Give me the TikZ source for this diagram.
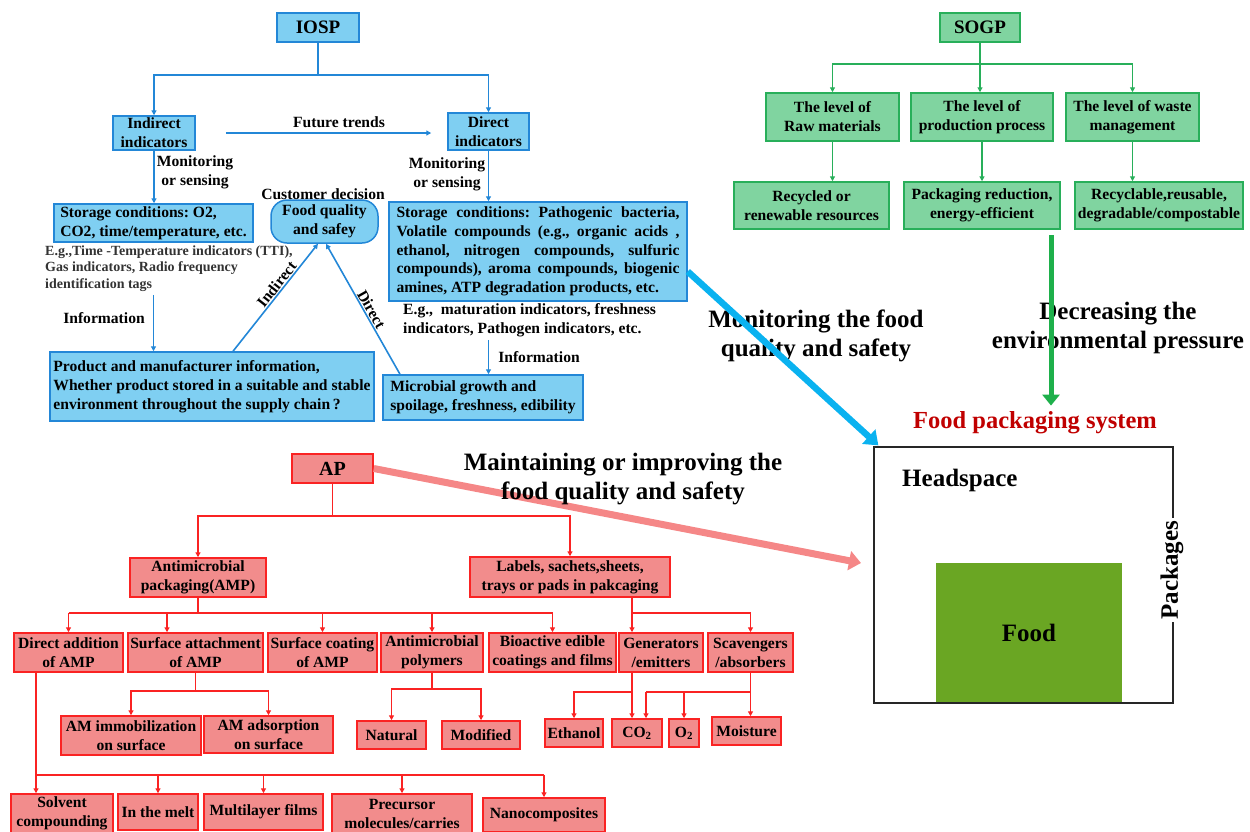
\documentclass[tikz,border=0pt]{standalone}
\usepackage{fontspec}
\setmainfont{Liberation Serif}
\usetikzlibrary{arrows.meta,calc}
\definecolor{bfill}{RGB}{127,207,242}
\definecolor{bline}{RGB}{35,135,215}
\definecolor{gfill}{RGB}{128,212,160}
\definecolor{gline}{RGB}{40,175,90}
\definecolor{rfill}{RGB}{242,140,140}
\definecolor{rline}{RGB}{250,35,35}
\definecolor{bigblue}{RGB}{10,178,240}
\definecolor{biggreen}{RGB}{30,176,75}
\definecolor{bigpink}{RGB}{245,135,135}
\definecolor{darkred}{RGB}{192,0,0}
\definecolor{foodgreen}{RGB}{106,166,35}
\newcommand\myfs[2]{\fontsize{#1}{#2}\selectfont}
\begin{document}
\frenchspacing
\begin{tikzpicture}[x=1pt,y=-1pt,
  sz/.style 2 args={minimum width=#1pt,minimum height=#2pt},
  base/.style={font=\bfseries\myfs{15.6}{19}, inner sep=0pt, align=center},
  big/.style={font=\bfseries\myfs{25}{29}, inner sep=0pt, align=center},
  bbox/.style={base, draw=bline, fill=bfill, line width=1.5pt},
  gbox/.style={base, draw=gline, fill=gfill, line width=1.5pt},
  rbox/.style={base, draw=rline, fill=rfill, line width=1.5pt},
  bconn/.style={draw=bline, line width=1.6pt},
  barr/.style={bconn, -{Triangle[length=5pt,width=5pt]}},
  gconn/.style={draw=gline, line width=1.4pt},
  garr/.style={gconn, -{Triangle[length=5pt,width=5pt]}},
  rconn/.style={draw=rline, line width=1.6pt},
  rarr/.style={rconn, -{Triangle[length=5pt,width=5pt]}},
  bigb/.style={draw=bigblue, line width=6.5pt, -{Triangle[length=13pt,width=19pt]}},
  bigg/.style={draw=biggreen, line width=5pt, -{Triangle[length=11pt,width=17pt]}},
  bigp/.style={draw=bigpink, line width=7pt, -{Triangle[length=12pt,width=19pt]}}
]
\useasboundingbox (0,0) rectangle (1250,831);

% ---------------- IOSP ----------------
\node[bbox, sz={82}{29}, font=\bfseries\myfs{19}{22}] (iosp) at (318,27.5) {IOSP};
\node[bbox, sz={82}{34}] (ind) at (154,133) {Indirect\\indicators};
\node[bbox, sz={81}{37}] (dir) at (488.5,131.5) {Direct\\indicators};
\node[bbox, sz={199}{38}, align=left] (lstore) at (153.5,223) {Storage conditions: O2,\\CO2, time/temperature, etc.};
\node[bbox, sz={107}{43}, rounded corners=16pt] (fq) at (324.5,221.5) {Food quality\\and safey};
\node[bbox, sz={298}{99}, text width=283pt, inner xsep=7.5pt, align=justify, font=\bfseries\myfs{15.6}{18.6}] (rstore) at (538,251.5) {\tolerance=10000 Storage conditions: Pathogenic bacteria,\linebreak Volatile compounds (e.g., organic acids ,\linebreak ethanol, nitrogen compounds, sulfuric\linebreak compounds), aroma compounds, biogenic\linebreak amines, ATP degradation products, etc.};
\node[bbox, sz={324}{69}, align=left] (prod) at (212,386.5) {Product and manufacturer information,\\Whether product stored in a suitable and stable\\environment throughout the supply chain\,?};
\node[bbox, sz={200}{45}, align=left] (micro) at (483,397.5) {Microbial growth and\\spoilage, freshness, edibility};

\node[base] (ft) at (339,122) {Future trends};
\node[base] (mosl) at (195,172.5) {Monitoring\\or sensing};
\node[base] (mosr) at (447,174) {Monitoring\\or sensing};
\node[base] (cd) at (323,194.5) {Customer decision};
\node[base, align=left, anchor=west, font=\bfseries\myfs{14}{16.7}, text=black!80] (egl) at (45,268.5) {E.g.,Time -Temperature indicators (TTI),\\Gas indicators, Radio frequency\\identification tags};
\node[base, align=left, anchor=west] (egr) at (403,320) {E.g.,~ maturation indicators, freshness\\indicators, Pathogen indicators, etc.};
\node[base] (infl) at (104,318) {Information};
\node[base] (infr) at (539,357) {Information};

\coordinate (iospj) at (318,75);
\draw[bconn] (iosp.south) -- (iospj);
\draw[barr] (iospj) -| (ind.north);
\draw[barr] (iospj) -| (dir.north);
\coordinate (ftA) at ([xshift=30pt]ind.east);
\coordinate (ftB) at ([xshift=-16pt]dir.west);
\draw[barr] (ftA) -- (ftA -| ftB);
\draw[barr] (ind.south) -- (ind.south |- lstore.north);
\draw[barr] (dir.south) -- (dir.south |- rstore.north);
\draw[barr] ($(egl.south -| lstore.south)+(0,3)$) -- (lstore.south |- prod.north);
\draw[barr] ($(egr.south -| dir.south)+(0,3)$) -- (dir.south |- micro.north);
\draw[barr] ([xshift=21pt]prod.north) -- ([xshift=-6.5pt]fq.south) node[base, pos=0.58, sloped, above=1pt] {Indirect};
\draw[barr] ([xshift=-83pt]micro.north) -- ([xshift=1.5pt]fq.south) node[base, pos=0.47, sloped, above=1pt] {Direct};

% ---------------- SOGP ----------------
\node[gbox, sz={80}{29}, font=\bfseries\myfs{19}{22}] (sogp) at (980,27.5) {SOGP};
\node[gbox, sz={133}{48}] (l1) at (832.5,117) {The level of\\Raw materials};
\node[gbox, sz={142}{48}] (l2) at (982,117) {The level of\\production process};
\node[gbox, sz={133}{48}] (l3) at (1132.5,117) {The level of waste\\management};
\node[gbox, sz={155}{47}] (r1) at (811.5,205.5) {Recycled or\\renewable resources};
\node[gbox, sz={156}{47}] (r2) at (982,205.5) {Packaging reduction,\\energy-efficient};
\node[gbox, sz={168}{47}] (r3) at (1159,205.5) {Recyclable,reusable,\\degradable/compostable};
\coordinate (sogpj) at (980,64);
\draw[gconn] (sogp.south) -- (sogpj);
\draw[garr] (sogpj) -| (l1.north);
\draw[garr] (sogpj) -- (sogpj |- l2.north);
\draw[garr] (sogpj) -| (l3.north);
\draw[garr] (l1.south) -- (l1.south |- r1.north);
\draw[garr] (l2.south) -- (l2.south |- r2.north);
\draw[garr] (l3.south) -- (l3.south |- r3.north);

% ---------------- Food packaging system ----------------
\node[big, font=\bfseries\myfs{24.5}{28}, text=darkred] (fps) at (1035,423) {Food packaging system};
\node[big, fill=foodgreen, sz={186}{140}] (food) at (1029,633) {Food};
\node[draw=black!85, line width=1.3pt, sz={299}{256}] (pkg) at (1023.5,575) {};
\node[big, anchor=west] (head) at (902,480) {Headspace};
\node[big, rotate=90, fill=white, inner xsep=3pt, inner ysep=1pt] (packs) at (1172,570) {Packages};

\node[big] (mon) at (816,336) {Monitoring the food\\quality and safety};
\node[big] (dec) at (1118,327.5) {Decreasing the\\environmental pressure};
\coordinate (bstart) at ($(rstore.east)+(0,20)$);
\draw[bigb] (bstart) -- ($(pkg.north west)+(5,-1)$);
\coordinate (gtop) at (1051,235);
\coordinate (gend) at ($(gtop |- fps.north)+(0,-6)$);
\draw[bigg] (gtop) -- (gend);

% ---------------- AP ----------------
\node[rbox, sz={81}{29}, font=\bfseries\myfs{20}{22}] (ap) at (332.5,468.5) {AP};
\coordinate (pinkend) at (861,563);
\draw[bigp] (ap.east) -- (pinkend);
\node[big] (mai) at (623,479.5) {Maintaining or improving the\\food quality and safety};

\node[rbox, sz={136}{39}] (amp) at (198,577.5) {Antimicrobial\\packaging(AMP)};
\node[rbox, sz={200}{40}] (lab) at (570,577) {Labels, sachets,sheets,\\trays or pads in pakcaging};

\node[rbox, sz={109}{39}] (da) at (68.5,652.5) {Direct addition\\of AMP};
\node[rbox, sz={135}{39}] (sa) at (195.5,652.5) {Surface attachment\\of AMP};
\node[rbox, sz={109}{39}] (sc) at (322.5,652.5) {Surface coating\\of AMP};
\node[rbox, sz={102}{39}] (apo) at (432,652.5) {Antimicrobial\\polymers};
\node[rbox, sz={127}{39}] (bio) at (552.5,652.5) {Bioactive edible\\coatings and films};
\node[rbox, sz={84}{39}] (gen) at (661,652.5) {Generators\\/emitters};
\node[rbox, sz={85}{39}] (sca) at (750.5,652.5) {Scavengers\\/absorbers};

\node[rbox, sz={140}{39}] (ami) at (131,735.5) {AM immobilization\\on surface};
\node[rbox, sz={129}{37}] (ama) at (268.5,734.5) {AM adsorption\\on surface};
\node[rbox, sz={69}{28}] (nat) at (391.5,735) {Natural};
\node[rbox, sz={78}{28}] (mod) at (481,735) {Modified};
\node[rbox, sz={58}{28}] (eth) at (574,733) {Ethanol};
\node[rbox, sz={50}{28}] (co2) at (637,733) {CO\textsubscript{2}};
\node[rbox, sz={30}{28}] (o2) at (684,733) {O\textsubscript{2}};
\node[rbox, sz={69}{28}] (moi) at (746.5,731) {Moisture};

\node[rbox, sz={102}{39}] (sol) at (62,813.5) {Solvent\\compounding};
\node[rbox, sz={80}{36}] (melt) at (158,812) {In the melt};
\node[rbox, sz={119}{36}] (mul) at (263.5,812) {Multilayer films};
\node[rbox, sz={140}{39}] (pre) at (402,813.5) {Precursor\\molecules/carries};
\node[rbox, sz={122}{34}] (nan) at (544,815) {Nanocomposites};

\coordinate (apj) at (332.5,516);
\draw[rconn] (ap.south) -- (apj);
\draw[rarr] (apj) -| (amp.north);
\draw[rarr] (apj) -| (lab.north);

\coordinate (ampj) at (198,613);
\draw[rconn] (amp.south) -- (ampj);
\draw[rconn] (da.north |- ampj) -- (bio.north |- ampj);
\coordinate (saIn) at ([xshift=-28.5pt]sa.north);
\draw[rarr] (da.north |- ampj) -- (da.north);
\draw[rarr] (saIn |- ampj) -- (saIn);
\draw[rarr] (sc.north |- ampj) -- (sc.north);
\draw[rarr] (apo.north |- ampj) -- (apo.north);
\draw[rarr] (bio.north |- ampj) -- (bio.north);

\coordinate (labOut) at ([xshift=62pt]lab.south);
\coordinate (labj) at (labOut |- ampj);
\draw[rarr] (labOut) -- (labOut |- gen.north);
\draw[rarr] (labj) -| (sca.north);

\coordinate (genOut) at ([xshift=-29pt]gen.south);
\coordinate (genj) at ($(genOut)+(0,19)$);
\draw[rarr] (genOut) -- (genOut |- co2.north);
\draw[rarr] (genj) -| (eth.north);
\coordinate (scaj) at ($(sca.south)+(0,19)$);
\coordinate (co2b) at ([xshift=9pt]co2.north);
\draw[rarr] (sca.south) -- (sca.south |- moi.north);
\draw[rconn] (scaj) -- (scaj -| co2b);
\draw[rarr] (scaj -| co2b) -- (co2b);
\draw[rarr] (scaj -| o2.north) -- (o2.north);

\coordinate (saj) at ($(sa.south)+(0,18)$);
\draw[rconn] (sa.south) -- (saj);
\draw[rarr] (saj) -| (ami.north);
\draw[rarr] (saj) -| (ama.north);
\coordinate (apoj) at ($(apo.south)+(0,16)$);
\draw[rconn] (apo.south) -- (apoj);
\draw[rarr] (apoj) -| (nat.north);
\draw[rarr] (apoj) -| (mod.north);

\coordinate (daOut) at ([xshift=-32.5pt]da.south);
\coordinate (daj) at ($(daOut)+(0,102)$);
\draw[rconn] (daOut) -- (daj) -- (daj -| nan.north);
\draw[rarr] (daj) -- (daj |- sol.north);
\draw[rarr] (daj -| melt.north) -- (melt.north);
\draw[rarr] (daj -| mul.north) -- (mul.north);
\draw[rarr] (daj -| pre.north) -- (pre.north);
\draw[rarr] (daj -| nan.north) -- (nan.north);
\end{tikzpicture}
\end{document}
